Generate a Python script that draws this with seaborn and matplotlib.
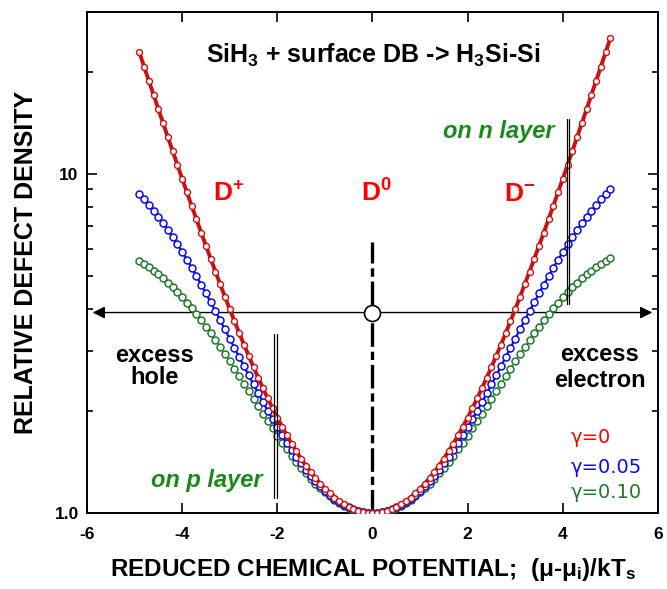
import matplotlib
matplotlib.use("Agg")
import matplotlib.pyplot as plt
import seaborn as sns
from matplotlib.ticker import FixedLocator, FixedFormatter, NullFormatter

# ---------------- data ----------------
x_mu = [-4.9, -4.8, -4.7, -4.6, -4.5, -4.4, -4.3, -4.2, -4.1, -4.0,
        -3.9, -3.8, -3.7, -3.6, -3.5, -3.4, -3.3, -3.2, -3.1, -3.0,
        -2.9, -2.8, -2.7, -2.6, -2.5, -2.4, -2.3, -2.2, -2.1, -2.0,
        -1.9, -1.8, -1.7, -1.6, -1.5, -1.4, -1.3, -1.2, -1.1, -1.0,
        -0.9, -0.8, -0.7, -0.6, -0.5, -0.4, -0.3, -0.2, -0.1, 0.0,
        0.1, 0.2, 0.3, 0.4, 0.5, 0.6, 0.7, 0.8, 0.9, 1.0,
        1.1, 1.2, 1.3, 1.4, 1.5, 1.6, 1.7, 1.8, 1.9, 2.0,
        2.1, 2.2, 2.3, 2.4, 2.5, 2.6, 2.7, 2.8, 2.9, 3.0,
        3.1, 3.2, 3.3, 3.4, 3.5, 3.6, 3.7, 3.8, 3.9, 4.0,
        4.1, 4.2, 4.3, 4.4, 4.5, 4.6, 4.7, 4.8, 4.9, 5.0]

gamma_0 = [22.83, 20.72, 18.81, 17.09, 15.52, 14.11, 12.83, 11.68, 10.63, 9.682,
           8.826, 8.050, 7.348, 6.713, 6.139, 5.620, 5.150, 4.725, 4.340, 3.992,
           3.678, 3.393, 3.136, 2.904, 2.694, 2.504, 2.332, 2.177, 2.038, 1.912,
           1.798, 1.695, 1.603, 1.521, 1.446, 1.380, 1.320, 1.268, 1.221, 1.179,
           1.143, 1.111, 1.084, 1.061, 1.042, 1.027, 1.015, 1.007, 1.002, 1.000,
           1.002, 1.007, 1.015, 1.027, 1.042, 1.061, 1.084, 1.111, 1.143, 1.179,
           1.221, 1.268, 1.320, 1.380, 1.446, 1.521, 1.603, 1.695, 1.798, 1.912,
           2.038, 2.177, 2.332, 2.504, 2.694, 2.904, 3.136, 3.393, 3.678, 3.992,
           4.340, 4.725, 5.150, 5.620, 6.139, 6.713, 7.348, 8.050, 8.826, 9.682,
           10.63, 11.68, 12.83, 14.11, 15.52, 17.09, 18.81, 20.72, 22.83, 25.16]

gamma_005 = [8.707, 8.405, 8.097, 7.784, 7.467, 7.148, 6.829, 6.511, 6.196, 5.885,
             5.581, 5.283, 4.993, 4.713, 4.443, 4.184, 3.936, 3.701, 3.477, 3.266,
             3.068, 2.881, 2.707, 2.544, 2.393, 2.252, 2.122, 2.002, 1.892, 1.790,
             1.697, 1.612, 1.535, 1.464, 1.400, 1.342, 1.290, 1.243, 1.201, 1.164,
             1.131, 1.102, 1.077, 1.056, 1.039, 1.025, 1.014, 1.006, 1.002, 1.000,
             1.002, 1.006, 1.014, 1.025, 1.039, 1.056, 1.077, 1.102, 1.131, 1.164,
             1.201, 1.243, 1.290, 1.342, 1.400, 1.464, 1.535, 1.612, 1.697, 1.790,
             1.892, 2.002, 2.122, 2.252, 2.393, 2.544, 2.707, 2.881, 3.068, 3.266,
             3.477, 3.701, 3.936, 4.184, 4.443, 4.713, 4.993, 5.283, 5.581, 5.885,
             6.196, 6.511, 6.829, 7.148, 7.467, 7.784, 8.097, 8.405, 8.707, 9.002]

gamma_010 = [5.551, 5.435, 5.314, 5.187, 5.055, 4.917, 4.775, 4.629, 4.479, 4.326,
             4.171, 4.014, 3.857, 3.699, 3.543, 3.388, 3.235, 3.086, 2.940, 2.798,
             2.662, 2.530, 2.404, 2.284, 2.170, 2.062, 1.960, 1.864, 1.775, 1.692,
             1.614, 1.543, 1.476, 1.416, 1.360, 1.309, 1.263, 1.221, 1.183, 1.150,
             1.120, 1.094, 1.071, 1.052, 1.036, 1.023, 1.013, 1.006, 1.001, 1.000,
             1.001, 1.006, 1.013, 1.023, 1.036, 1.052, 1.071, 1.094, 1.120, 1.150,
             1.183, 1.221, 1.263, 1.309, 1.360, 1.416, 1.476, 1.543, 1.614, 1.692,
             1.775, 1.864, 1.960, 2.062, 2.170, 2.284, 2.404, 2.530, 2.662, 2.798,
             2.940, 3.086, 3.235, 3.388, 3.543, 3.699, 3.857, 4.014, 4.171, 4.326,
             4.479, 4.629, 4.775, 4.917, 5.055, 5.187, 5.314, 5.435, 5.551, 5.660]

x_ticks = [-6, -4, -2, 0, 2, 4, 6]
x_tick_labels = ["-6", "-4", "-2", "0", "2", "4", "6"]
y_major = [1, 10]
y_major_labels = ["1.0", "10"]
y_minor = [2, 3, 4, 5, 6, 7, 8, 9, 20, 30]

gamma_labels = ["\u03b3=0", "\u03b3=0.05", "\u03b3=0.10"]

# annotation positions
arrow_level = 3.9
neutral_top = 6.3
p_marker_x = [-2.06, -2.00]
p_marker_y = [1.11, 3.38]
n_marker_x = [4.08, 4.14]
n_marker_y = [4.12, 14.5]

# ---------------- style ----------------
sns.set_style("ticks")
plt.rcParams["font.family"] = ["Liberation Sans", "DejaVu Sans"]
plt.rcParams["mathtext.fontset"] = "custom"
plt.rcParams["mathtext.rm"] = "Liberation Sans"
plt.rcParams["mathtext.bf"] = "Liberation Sans:bold"
plt.rcParams["mathtext.it"] = "Liberation Sans:italic"
plt.rcParams["lines.scale_dashes"] = False
for key in ["text.color", "axes.labelcolor", "xtick.color", "ytick.color", "axes.edgecolor"]:
    plt.rcParams[key] = "black"

RED = "#cc1010"
BLUE = "#0a0aee"
GREEN = "#1f7a2a"
TXT_RED = "#ff0000"
TXT_GREEN = "#1a8a1a"

fig = plt.figure(figsize=(6.67, 5.89), dpi=100)
ax = fig.add_axes([0.1304, 0.129, 0.8561, 0.8506])

# guide lines (below curves)
ax.plot([0, 0], [1.0, neutral_top], color="black", lw=2.4,
        dashes=(17, 3.5, 6, 3.5), zorder=1, dash_capstyle="butt")
ax.annotate("", xy=(-5.88, arrow_level), xytext=(5.88, arrow_level),
            arrowprops=dict(arrowstyle="<|-|>", color="black", lw=1.0,
                            mutation_scale=18, shrinkA=0, shrinkB=0), zorder=2)
for xv in p_marker_x:
    ax.plot([xv, xv], p_marker_y, color="black", lw=0.9, zorder=5)
for xv in n_marker_x:
    ax.plot([xv, xv], n_marker_y, color="black", lw=0.9, zorder=5)

# curves
sns.lineplot(x=x_mu, y=gamma_010, ax=ax, color=GREEN, lw=0.8, sort=False,
             estimator=None, errorbar=None, marker="o", markersize=5.0,
             markerfacecolor="white", markeredgecolor=GREEN, markeredgewidth=1.1, zorder=3)
sns.lineplot(x=x_mu, y=gamma_005, ax=ax, color=BLUE, lw=1.6, sort=False,
             estimator=None, errorbar=None, marker="o", markersize=5.0,
             markerfacecolor="white", markeredgecolor=BLUE, markeredgewidth=1.1, zorder=3)
sns.lineplot(x=x_mu, y=gamma_0, ax=ax, color=RED, lw=2.8, sort=False,
             estimator=None, errorbar=None, marker="o", markersize=4.3,
             markerfacecolor="white", markeredgecolor=RED, markeredgewidth=1.0, zorder=4)

# neutral point circle
ax.plot([0], [arrow_level], marker="o", ms=11.5, mfc="white", mec="black", mew=1.2, zorder=6)

# axes
ax.set_yscale("log")
ax.set_xlim(-6, 6)
ax.set_ylim(1.0, 30)
ax.xaxis.set_major_locator(FixedLocator(x_ticks))
ax.xaxis.set_major_formatter(FixedFormatter(x_tick_labels))
ax.yaxis.set_major_locator(FixedLocator(y_major))
ax.yaxis.set_major_formatter(FixedFormatter(y_major_labels))
ax.yaxis.set_minor_locator(FixedLocator(y_minor))
ax.yaxis.set_minor_formatter(NullFormatter())
ax.tick_params(which="both", direction="in", top=True, right=True, width=1.2)
ax.tick_params(which="major", length=7, labelsize=12.5, pad=6)
ax.tick_params(axis="x", which="major", pad=10)
ax.tick_params(which="minor", length=4.5)
for lab in ax.get_xticklabels() + ax.get_yticklabels():
    lab.set_fontweight("bold")
for sp in ax.spines.values():
    sp.set_linewidth(1.4)

ax.set_xlabel("REDUCED CHEMICAL POTENTIAL;  (\u03bc-\u03bc$_{\\mathbf{i}}$)/kT$_{\\mathbf{s}}$",
              fontsize=17.5, fontweight="bold", labelpad=10)
ax.set_ylabel("RELATIVE DEFECT DENSITY", fontsize=18, fontweight="bold", labelpad=12)

# texts
ax.text(0.02, 21.2, "SiH$_{\\mathbf{3}}$ + surface DB -> H$_{\\mathbf{3}}$Si-Si",
        ha="center", va="baseline", fontsize=18, fontweight="bold")
ax.text(-3.35, 8.3, "D$^{\\mathbf{+}}$", ha="left", va="baseline", fontsize=19,
        fontweight="bold", color=TXT_RED)
ax.text(-0.25, 8.3, "D$^{\\mathbf{0}}$", ha="left", va="baseline", fontsize=19,
        fontweight="bold", color=TXT_RED)
ax.text(2.77, 8.3, "D$^{\\mathbf{-}}$", ha="left", va="baseline", fontsize=19,
        fontweight="bold", color=TXT_RED)
ax.text(3.83, 12.76, "on n layer", ha="right", va="baseline", fontsize=17,
        fontweight="bold", style="italic", color=TXT_GREEN)
ax.text(-2.31, 1.19, "on p layer", ha="right", va="baseline", fontsize=17,
        fontweight="bold", style="italic", color=TXT_GREEN)
ax.text(-4.59, 2.40, "excess\nhole", ha="center", va="baseline", fontsize=17,
        fontweight="bold", linespacing=0.95, multialignment="center")
ax.text(4.78, 2.36, "excess\nelectron", ha="center", va="baseline", fontsize=17,
        fontweight="bold", linespacing=1.15, multialignment="center")

for lab, col, yv in zip(gamma_labels, [TXT_RED, BLUE, GREEN], [1.607, 1.311, 1.107]):
    ax.text(4.17, yv, lab, ha="left", va="baseline", fontsize=14, color=col,
            family="DejaVu Sans")

fig.savefig("out.png", dpi=100)
